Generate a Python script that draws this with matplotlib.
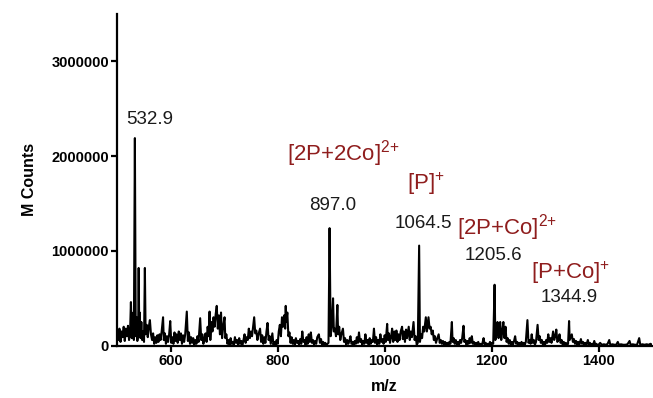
import numpy as np
import matplotlib
matplotlib.use('Agg')
import matplotlib.pyplot as plt
from matplotlib import ticker

plt.rcParams['font.family'] = ['Liberation Sans', 'DejaVu Sans']
plt.rcParams['mathtext.fontset'] = 'custom'
plt.rcParams['mathtext.rm'] = 'Liberation Sans'

# spectrum: (m/z, counts in thousands)
seg_a = [(500, 120), (502, 60), (504, 180), (506, 40), (508, 150), (510, 90), (512, 200), (514, 50),
         (516, 180), (518, 100), (520, 210), (522, 60), (524, 160), (525.5, 460), (527, 80), (528.5, 150),
         (530, 350), (531, 60), (532.9, 2190), (534.5, 100), (536, 300), (537.5, 50), (539, 120), (540, 820),
         (541, 200), (542, 350), (543.5, 80), (545, 250), (546.5, 60), (548, 150), (550, 40), (551.6, 820),
         (553, 120), (555, 220), (557, 90), (559, 200), (561, 270), (563, 120), (565, 60), (567, 130),
         (569, 20), (571, 90), (573, 30), (575, 110), (577, 40), (579, 120), (581, 60), (583, 150),
         (585.6, 300), (587, 60), (589, 130), (591, 20), (593, 100), (595, 40), (597, 120), (599, 260),
         (601, 30), (603, 90), (605, 20), (607, 140), (609, 50), (611, 120), (613, 30), (615, 150),
         (617, 60), (619, 130), (621, 20), (623, 110), (625, 40), (627, 120), (630, 360), (632, 50),
         (634, 140), (636, 20), (638, 90), (640, 30), (642, 80), (644, 10), (646, 60), (648, 20),
         (650, 100), (652, 40), (655, 290), (657, 60), (659, 120), (661, 20), (663, 80), (665, 130),
         (667, 40), (669, 200), (671, 100), (672.6, 360), (674, 60), (676, 250), (678, 150), (680, 300),
         (682, 200), (684, 330), (686, 420), (688, 180), (690, 320), (692, 120), (694, 350), (696, 80),
         (698, 200), (700.6, 300)]
seg_b = [(702, 80), (704, 120), (706, 20), (708, 60), (710, 10), (712, 80), (714, 20), (716, 40),
         (718, 10), (720, 90), (722, 30), (724, 60), (726, 10), (728, 80), (730, 20), (732, 50),
         (734, 10), (736, 60), (738, 120), (740, 30), (742, 90), (744, 60), (746, 180), (748, 80),
         (750, 150), (752, 100), (754, 200), (756, 300), (758, 130), (760, 160), (762, 60), (764, 120),
         (767, 180), (769, 40), (771, 110), (773, 20), (775, 90), (777, 30), (779, 150), (781, 240),
         (783, 60), (785, 100), (787, 20), (790, 130), (792, 10), (794, 40), (796, 5), (798, 60),
         (800, 20), (802, 150), (804, 220), (806, 100), (808, 300), (810, 200), (812, 320), (814, 180),
         (815, 420), (816, 250), (818, 350), (820, 100), (822, 140), (824, 30), (826, 90), (828, 20),
         (830, 60), (832, 10), (834, 80), (836, 30), (838, 50), (840, 10), (842, 70), (844, 20),
         (846, 150), (848, 40), (850, 60), (852, 10), (854, 90), (856, 20), (858, 120), (860, 40),
         (862, 140), (864, 30), (866, 60), (868, 10), (870, 50), (872, 20), (874, 90), (877, 120),
         (879, 30), (881, 70), (883, 10), (885, 40), (887, 10), (889, 30), (891, 5), (893, 20),
         (895, 30), (897, 1240), (899, 100), (901, 200), (903.5, 500), (905, 150), (907, 180), (909, 100),
         (911.6, 430), (913, 120), (915, 200), (917, 60), (919, 120), (922, 180), (924, 40), (926, 80),
         (928, 10), (930, 60), (932, 20), (934, 50), (936, 100), (938, 20), (940, 40), (942, 5),
         (944, 50), (946, 20), (948, 90), (950, 30), (952, 140), (954, 40), (956, 70), (958, 10),
         (960, 50), (962, 20), (964, 120), (966, 30), (968, 60), (970, 10), (972, 80), (974, 20),
         (976, 60), (978, 40), (980, 180), (982, 30), (984, 90), (986, 10), (988, 60), (990, 20),
         (992, 120), (994, 40), (996, 70), (998, 20)]
seg_c = [(1000, 110), (1002, 40), (1004.7, 230), (1006, 60), (1008, 130), (1010, 30), (1012, 90),
         (1014, 180), (1016, 40), (1018, 150), (1020, 60), (1022, 160), (1024, 40), (1026, 120),
         (1028, 60), (1030, 150), (1032.6, 200), (1034, 70), (1036, 150), (1038, 40), (1040, 170),
         (1042, 80), (1045, 200), (1047, 60), (1049, 150), (1051, 90), (1054, 250), (1056, 60),
         (1058, 100), (1060, 10), (1062, 30), (1064.5, 1056), (1066, 40), (1068, 120), (1070, 80),
         (1072, 200), (1074, 150), (1076, 250), (1077, 300), (1079, 150), (1082, 300), (1084, 180),
         (1086, 200), (1088, 120), (1090, 160), (1092, 60), (1094, 100), (1096, 30), (1098, 70),
         (1101, 120), (1103, 30), (1105, 60), (1107, 20), (1109, 50), (1111, 10), (1113, 40),
         (1115, 10), (1117, 30), (1119, 5), (1121, 40), (1123, 20), (1125.7, 250), (1127, 40),
         (1129, 80), (1131, 20), (1133, 60), (1135, 10), (1137, 40), (1139, 10), (1141, 60),
         (1143, 30), (1145, 80), (1147.5, 210), (1149, 40), (1151, 60), (1153, 10), (1155, 50),
         (1157, 20), (1159, 80), (1161, 30), (1163, 100), (1165, 20), (1167, 40), (1169, 5),
         (1171, 30), (1173, 10), (1175, 40), (1177, 5), (1179, 20), (1181, 5), (1183, 30),
         (1185, 80), (1187, 10), (1189, 30), (1191, 5), (1193, 20), (1195, 10), (1197, 40),
         (1199, 10), (1201, 30), (1203, 20), (1205.6, 643), (1207, 60), (1209, 120), (1211, 250),
         (1213, 80), (1215, 160), (1216, 250), (1218, 60), (1220, 150), (1222, 250), (1224, 80),
         (1226, 200), (1228, 40), (1230, 80), (1232, 20), (1234, 60), (1236, 10), (1238, 40),
         (1240, 10), (1242, 50), (1244, 100), (1246, 20), (1248, 40), (1250, 5), (1252, 30),
         (1254, 10), (1256, 40), (1258, 5), (1260, 30), (1262, 10), (1264, 40), (1267, 270),
         (1269, 30), (1271, 60), (1273, 20), (1275, 120), (1277, 30), (1279, 60), (1281, 10),
         (1283, 40), (1286, 220), (1288, 60), (1290, 100), (1292, 30), (1294, 60), (1296, 10),
         (1298, 40)]
seg_d = [(1300, 10), (1302, 60), (1304, 30), (1306, 120), (1308, 40), (1310, 80), (1312, 30),
         (1315, 150), (1317, 60), (1319, 100), (1321, 170), (1323, 40), (1325, 60), (1327, 120),
         (1329, 30), (1331, 60), (1333, 10), (1335, 40), (1337, 10), (1339, 30), (1341, 5),
         (1343, 20), (1344.9, 260), (1346, 60), (1348, 90), (1350, 120), (1352, 40), (1354, 70),
         (1356, 20), (1358, 50), (1360, 10), (1362, 40), (1364, 10), (1367, 70), (1369, 20),
         (1371, 40), (1373, 10), (1375, 30), (1377, 5), (1380, 60), (1382, 10), (1384, 30),
         (1386, 5), (1388, 20), (1390, 10), (1392, 50), (1394, 10), (1396, 20), (1398, 5),
         (1400, 10), (1403, 30), (1406, 10), (1410, 15), (1414, 10), (1417, 20), (1420, 60),
         (1422, 10), (1426, 15), (1430, 10), (1433, 10), (1436, 40), (1438, 10), (1442, 15),
         (1446, 10), (1450, 10), (1454, 15), (1458, 50), (1460, 10), (1464, 15), (1468, 10),
         (1472, 10), (1476, 80), (1478, 10), (1482, 15), (1486, 10), (1490, 15), (1494, 10),
         (1497, 20), (1500, 10)]

spec = np.array(seg_a + seg_b + seg_c + seg_d)
mz = spec[:, 0]
counts = spec[:, 1] * 1000

# labelled peaks
peak_mz = [532.9, 897.0, 1064.5, 1205.6, 1344.9]
peak_h = [2190000, 1240000, 1056000, 643000, 260000]
peak_txt = ['532.9', '897.0', '1064.5', '1205.6', '1344.9']
num_off = [(15, 19), (3, 23), (4, 22), (-1, 29), (0, 24)]  # px
ion_txt = [None, r'[2P+2Co]$^{\mathrm{2{+}}}$', r'[P]$^{\mathrm{+}}$',
           r'[2P+Co]$^{\mathrm{2{+}}}$', r'[P+Co]$^{\mathrm{+}}$']
ion_off = [None, (14, 75), (7, 62), (12, 57), (1, 48)]

fig = plt.figure(figsize=(6.53, 3.98), dpi=100)
ax = fig.add_axes([0.1796, 0.1314, 0.8189, 0.8336])
ax.plot(mz, counts, color='black', lw=1.5)

ax.set_xlim(500, 1500)
ax.set_ylim(0, 3500000)
ax.set_xticks([600, 800, 1000, 1200, 1400])
ax.set_yticks([0, 1000000, 2000000, 3000000])
ax.yaxis.set_major_formatter(ticker.StrMethodFormatter('{x:.0f}'))
for s in ['top', 'right']:
    ax.spines[s].set_visible(False)
for s in ['left', 'bottom']:
    ax.spines[s].set_linewidth(1.6)
ax.tick_params(width=1.6, length=4, labelsize=10.5, pad=2)
for lab in ax.get_xticklabels() + ax.get_yticklabels():
    lab.set_fontweight('bold')
ax.set_xlabel('m/z', fontsize=11.5, fontweight='bold', labelpad=8)
ax.set_ylabel('M Counts', fontsize=11.5, fontweight='bold', labelpad=10)

k = 0.72  # px -> points
for i in range(len(peak_mz)):
    dx, dy = num_off[i]
    ax.annotate(peak_txt[i], (peak_mz[i], peak_h[i]), xytext=(dx * k, dy * k),
                textcoords='offset points', ha='center', va='center',
                fontsize=13.5, color='#1a1a1a')
    if ion_txt[i]:
        dx, dy = ion_off[i]
        ax.annotate(ion_txt[i], (peak_mz[i], peak_h[i]), xytext=(dx * k, dy * k),
                    textcoords='offset points', ha='center', va='center',
                    fontsize=16, color='#8f1d1d')

fig.savefig('out.png', dpi=100)
